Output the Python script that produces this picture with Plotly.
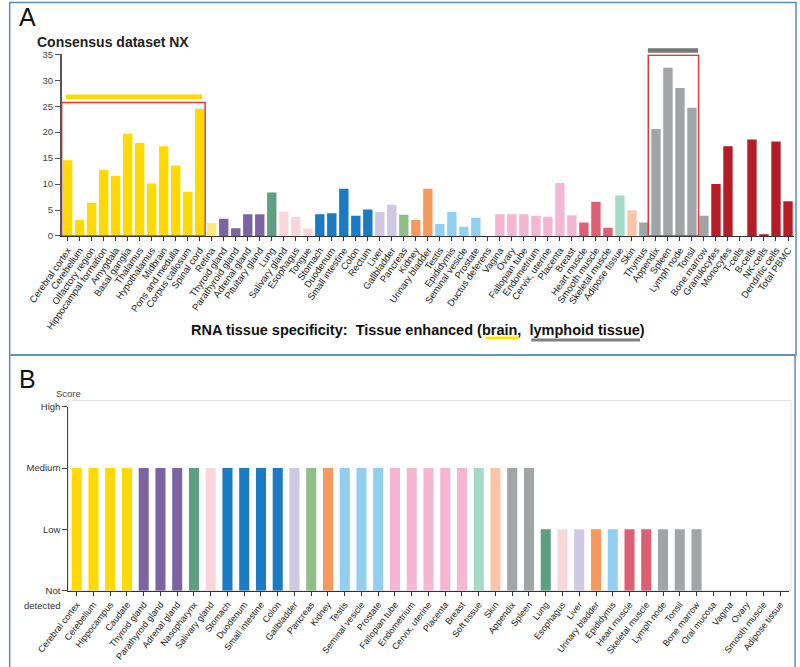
import plotly.graph_objects as go

# Panel A: consensus dataset NX per tissue
tissues_nx = [
    "Cerebral cortex", "Cerebellum", "Olfactory region", "Hippocampal formation",
    "Amygdala", "Basal ganglia", "Thalamus", "Hypothalamus", "Midbrain",
    "Pons and medulla", "Corpus callosum", "Spinal cord", "Retina",
    "Thyroid gland", "Parathyroid gland", "Adrenal gland", "Pituitary gland",
    "Lung", "Salivary gland", "Esophagus", "Tongue", "Stomach", "Duodenum",
    "Small intestine", "Colon", "Rectum", "Liver", "Gallbladder", "Pancreas",
    "Kidney", "Urinary bladder", "Testis", "Epididymis", "Seminal vesicle",
    "Prostate", "Ductus deferens", "Vagina", "Ovary", "Fallopian tube",
    "Endometrium", "Cervix, uterine", "Placenta", "Breast", "Heart muscle",
    "Smooth muscle", "Skeletal muscle", "Adipose tissue", "Skin", "Thymus",
    "Appendix", "Spleen", "Lymph node", "Tonsil", "Bone marrow",
    "Granulocytes", "Monocytes", "T-cells", "B-cells", "NK-cells",
    "Dendritic cells", "Total PBMC",
]
nx_values = [
    14.6, 3.1, 6.4, 12.7, 11.6, 19.7, 17.9, 10.1, 17.3, 13.6, 8.5, 24.5, 2.5,
    3.3, 1.5, 4.2, 4.2, 8.4, 4.7, 3.7, 1.5, 4.2, 4.4, 9.1, 3.9, 5.1, 4.6,
    6.0, 4.1, 3.1, 9.1, 2.3, 4.6, 1.8, 3.5, 0, 4.2, 4.2, 4.2, 3.9, 3.7,
    10.2, 4.0, 2.6, 6.6, 1.6, 7.8, 4.9, 2.6, 20.6, 32.4, 28.5, 24.7, 3.9,
    10.0, 17.3, 0, 18.6, 0.3, 18.2, 6.7,
]
nx_groups = (["brain"] * 12 + ["eye"] + ["endocrine"] * 4 + ["lung"]
             + ["proximal"] * 3 + ["gi"] * 5 + ["liver"] * 2 + ["pancreas"]
             + ["kidney"] * 2 + ["male"] * 5 + ["female"] * 7 + ["muscle"] * 3
             + ["connective", "skin"] + ["lymphoid"] * 6 + ["blood"] * 7)

# Panel B: protein expression score per tissue
tissues_score = [
    "Cerebral cortex", "Cerebellum", "Hippocampus", "Caudate", "Thyroid gland",
    "Parathyroid gland", "Adrenal gland", "Nasopharynx", "Salivary gland",
    "Stomach", "Duodenum", "Small intestine", "Colon", "Gallbladder",
    "Pancreas", "Kidney", "Testis", "Seminal vesicle", "Prostate",
    "Fallopian tube", "Endometrium", "Cervix, uterine", "Placenta", "Breast",
    "Soft tissue", "Skin", "Appendix", "Spleen", "Lung", "Esophagus", "Liver",
    "Urinary bladder", "Epididymis", "Heart muscle", "Skeletal muscle",
    "Lymph node", "Tonsil", "Bone marrow", "Oral mucosa", "Vagina", "Ovary",
    "Smooth muscle", "Adipose tissue",
]
score_values = [2] * 28 + [1] * 10 + [0] * 5
score_groups = (["brain"] * 4 + ["endocrine"] * 3 + ["lung", "proximal"]
                + ["gi"] * 4 + ["liver", "pancreas", "kidney"] + ["male"] * 3
                + ["female"] * 5 + ["connective", "skin", "lymphoid", "lymphoid",
                                    "lung", "proximal", "liver", "kidney", "male",
                                    "muscle", "muscle"]
                + ["lymphoid"] * 3 + ["proximal", "female", "female", "muscle",
                                      "connective"])
score_labels = ["Not", "Low", "Medium", "High"]

palette = {
    "brain": "#FFD900", "eye": "#FCE77C", "endocrine": "#7C64A2",
    "lung": "#5E9F84", "proximal": "#FAD6DB", "gi": "#1A7AC3",
    "liver": "#D0C7E4", "pancreas": "#8FBF86", "kidney": "#F59A5C",
    "male": "#91CFF0", "female": "#F4B6D3", "muscle": "#DD5F73",
    "connective": "#A3DAC7", "skin": "#F8C6A7", "lymphoid": "#A0A5A8",
    "blood": "#B51C26",
}

FONT = "Liberation Sans, Arial, sans-serif"

fig = go.Figure()
fig.add_trace(go.Bar(x=tissues_nx, y=nx_values,
                     marker=dict(color=[palette[g] for g in nx_groups], line_width=0),
                     xaxis="x", yaxis="y", showlegend=False))
fig.add_trace(go.Bar(x=tissues_score, y=score_values,
                     marker=dict(color=[palette[g] for g in score_groups], line_width=0),
                     xaxis="x2", yaxis="y2", showlegend=False, width=0.6))

fig.update_layout(
    width=800, height=667, margin=dict(l=0, r=0, t=0, b=0),
    paper_bgcolor="white", plot_bgcolor="white", bargap=0.22,
    font=dict(family=FONT, color="#333"),
    xaxis=dict(domain=[0.0771, 0.9925], range=[-0.5, 60.5], anchor="y",
               automargin=False,
               showline=True, linecolor="#333", linewidth=1.2, ticks="outside",
               ticklen=4, tickcolor="#333", tickangle=-55,
               tickfont=dict(size=9.5, color="#1a1a1a")),
    yaxis=dict(domain=[0.6462, 0.9186], range=[0, 35], anchor="x", dtick=5,
               automargin=False,
               showline=True, linecolor="#555", linewidth=1.5, ticks="outside",
               ticklen=5, tickcolor="#555", showgrid=False, zeroline=False,
               tickfont=dict(size=9.5, color="#444")),
    xaxis2=dict(domain=[0.0854, 0.9858], range=[-0.5, 42.5], anchor="y2",
                automargin=False,
                showline=True, linecolor="#333", linewidth=1.2, ticks="outside",
                ticklen=4, tickcolor="#333", tickangle=-52,
                tickfont=dict(size=9, color="#1a1a1a")),
    yaxis2=dict(domain=[0.1144, 0.3903], range=[0, 3], anchor="x2",
                automargin=False,
                tickvals=[0, 1, 2, 3], ticktext=score_labels,
                showline=True, linecolor="#444", linewidth=1.2, ticks="outside",
                ticklen=5, tickcolor="#444", showgrid=False, zeroline=False,
                tickfont=dict(size=9.5, color="#333")),
)

shapes = [
    # panel frames
    dict(type="rect", xref="paper", yref="paper", x0=0.0121, x1=0.995,
         y0=0.4678, y1=0.9963, line=dict(color="#5B8BC6", width=1.5)),
    dict(type="rect", xref="paper", yref="paper", x0=0.0121, x1=0.9938,
         y0=-0.01, y1=0.4678, line=dict(color="#5B8BC6", width=1.5)),
    # light plot frame in B
    dict(type="rect", xref="paper", yref="paper", x0=0.0854, x1=0.9888,
         y0=0.1144, y1=0.3993, line=dict(color="#E2E2E2", width=1), layer="below"),
    # highlight boxes in A
    dict(type="rect", xref="x", yref="y", x0=-0.5, x1=11.45, y0=0, y1=25.7,
         line=dict(color="#E23A3A", width=1.5)),
    dict(type="line", xref="x", yref="y", x0=-0.15, x1=11.2, y0=26.8, y1=26.8,
         line=dict(color="#FFD900", width=4.5)),
    dict(type="rect", xref="x", yref="y", x0=48.36, x1=52.55, y0=0, y1=34.8,
         line=dict(color="#E23A3A", width=1.5)),
    dict(type="line", xref="x", yref="paper", x0=48.33, x1=52.5, y0=0.9243, y1=0.9243,
         line=dict(color="#777777", width=4.5)),
    # caption underlines
    dict(type="line", xref="paper", yref="paper", x0=0.607, x1=0.648,
         y0=0.4933, y1=0.4933, line=dict(color="#FFE600", width=3)),
    dict(type="line", xref="paper", yref="paper", x0=0.664, x1=0.800,
         y0=0.4903, y1=0.4903, line=dict(color="#808080", width=3)),
]
fig.update_layout(shapes=shapes)

annotations = [
    dict(text="A", x=0.034, y=0.9745, font=dict(size=25, color="#111")),
    dict(text="B", x=0.034, y=0.432, font=dict(size=25, color="#111")),
    dict(text="<b>Consensus dataset NX</b>", x=0.0437, y=0.9375, xanchor="left",
         font=dict(size=14, color="#222")),
    dict(text="<b>RNA tissue specificity:  Tissue enhanced (brain,  lymphoid tissue)</b>",
         x=0.523, y=0.5052, font=dict(size=14.5, color="#111")),
    dict(text="Score", x=0.085, y=0.4093, font=dict(size=9.5, color="#444")),
    dict(text="detected", x=0.077, y=0.0915, xanchor="right",
         font=dict(size=9.5, color="#333")),
]
for a in annotations:
    a.setdefault("xanchor", "center")
    a.update(xref="paper", yref="paper", yanchor="middle", showarrow=False)
fig.update_layout(annotations=annotations)

fig.write_html("out.html", config={"displayModeBar": False},
               post_script="document.body.style.margin='0px';")
